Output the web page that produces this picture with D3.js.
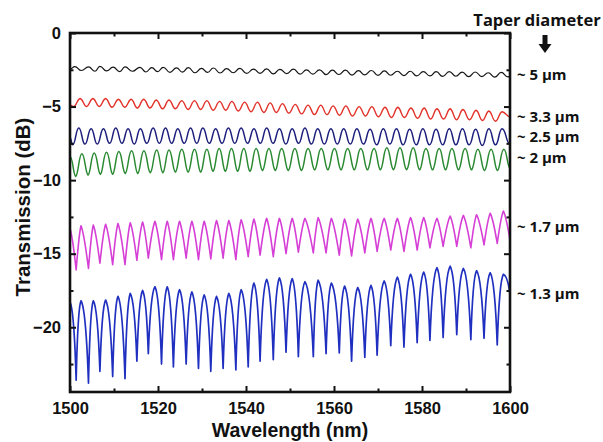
<!DOCTYPE html>
<html><head><meta charset="utf-8">
<script src="https://cdn.jsdelivr.net/npm/d3@7"></script>
<style>
body{margin:0;background:#fff}
svg{display:block}
text{font-family:"Liberation Sans",Arial,sans-serif;font-weight:bold;fill:#111}
.lab{font-family:"Open Sans","Liberation Sans",sans-serif;font-weight:700}
</style></head><body>
<svg id="c" width="603" height="442"></svg>
<script>
// ---------- data ----------
const xMajorTicks = [1500, 1520, 1540, 1560, 1580, 1600];
const xMinorTicks = [1510, 1530, 1550, 1570, 1590];
const yMajorTicks = [0, -5, -10, -15, -20];
const yMinorTicks = [-2.5, -7.5, -12.5, -17.5, -22.5];

const seriesNames  = ["5", "3.3", "2.5", "2", "1.7", "1.3"];
const seriesLabels = ["~ 5 \u00b5m", "~ 3.3 \u00b5m", "~ 2.5 \u00b5m", "~ 2 \u00b5m", "~ 1.7 \u00b5m", "~ 1.3 \u00b5m"];
const labelDb      = [-2.85, -5.7, -7.05, -8.5, -13.15, -17.75];

// ~5 um taper (black)
const blackPeakWl = [1501.1,1504.2,1506.8,1509.8,1512.5,1515.9,1518.6,1521.2,1524.2,1526.9,1529.9,1532.6,1535.6,1538.6,1541.7,1544.7,1547.7,1550.8,1553.75,1556.7,1559.65,1562.6,1565.55,1568.5,1571.45,1574.4,1577.35,1580.3,1583.25,1586.2,1589.15,1592.1,1595.05,1598.0];
const blackPeakDb = [-2.28,-2.3,-2.27,-2.32,-2.3,-2.33,-2.35,-2.33,-2.37,-2.36,-2.4,-2.38,-2.42,-2.4,-2.45,-2.44,-2.47,-2.46,-2.5,-2.5,-2.53,-2.52,-2.56,-2.55,-2.58,-2.6,-2.6,-2.62,-2.63,-2.62,-2.66,-2.65,-2.7,-2.68];
const blackTroughWl = [1502.6,1505.7,1508.3,1511.3,1514.2,1517.25,1519.9,1522.7,1525.55,1528.4,1531.25,1534.1,1537.1,1540.15,1543.2,1546.2,1549.25,1552.3,1555.2,1558.2,1561.1,1564.1,1567.0,1570.0,1572.9,1575.9,1578.8,1581.8,1584.7,1587.7,1590.6,1593.6,1596.5,1599.5];
const blackTroughDb = [-2.55,-2.6,-2.58,-2.62,-2.6,-2.65,-2.63,-2.67,-2.66,-2.7,-2.68,-2.72,-2.7,-2.75,-2.74,-2.78,-2.76,-2.8,-2.8,-2.83,-2.82,-2.86,-2.85,-2.88,-2.87,-2.9,-2.92,-2.92,-2.95,-2.94,-2.97,-2.96,-3.0,-2.98];
const blackEdgeDb = [-2.45, -2.95];

// ~3.3 um taper (red)
const redPeakWl = [1502.3,1505.2,1508.1,1511.0,1513.9,1516.75,1519.6,1522.5,1525.4,1528.3,1531.1,1534.0,1536.8,1539.7,1542.6,1545.5,1548.3,1551.2,1554.1,1557.0,1559.8,1562.7,1565.7,1568.6,1571.6,1574.5,1577.5,1580.5,1583.4,1586.4,1589.3,1592.3,1595.2,1598.2];
const redPeakDb = [-4.45,-4.45,-4.45,-4.5,-4.5,-4.5,-4.55,-4.55,-4.6,-4.6,-4.6,-4.65,-4.65,-4.7,-4.7,-4.75,-4.8,-4.85,-4.9,-4.9,-4.95,-4.95,-5.0,-5.0,-5.05,-5.05,-5.1,-5.1,-5.15,-5.15,-5.2,-5.25,-5.3,-5.35];
const redTroughWl = [1500.85,1503.75,1506.65,1509.55,1512.45,1515.3,1518.2,1521.05,1523.95,1526.85,1529.7,1532.55,1535.4,1538.25,1541.15,1544.05,1546.9,1549.75,1552.65,1555.55,1558.4,1561.25,1564.2,1567.15,1570.1,1573.05,1576.0,1579.0,1581.95,1584.9,1587.85,1590.8,1593.75,1596.7];
const redTroughDb = [-5.0,-5.0,-5.0,-5.05,-5.05,-5.1,-5.1,-5.15,-5.15,-5.2,-5.2,-5.25,-5.25,-5.3,-5.35,-5.4,-5.4,-5.45,-5.5,-5.55,-5.55,-5.6,-5.65,-5.65,-5.7,-5.75,-5.75,-5.8,-5.85,-5.85,-5.9,-5.9,-5.95,-6.0];
const redEdgeDb = [-4.9, -5.7];

// ~2.5 um taper (navy)
const navyPeakWl = [1502.0,1504.8,1507.6,1510.4,1513.2,1516.0,1518.9,1521.7,1524.5,1527.4,1530.2,1533.1,1536.0,1538.9,1541.8,1544.7,1547.6,1550.5,1553.4,1556.3,1559.3,1562.2,1565.2,1568.2,1571.2,1574.2,1577.2,1580.2,1583.2,1586.2,1589.2,1592.2,1595.2,1598.2];
const navyPeakDb = [-6.45,-6.5,-6.5,-6.45,-6.5,-6.5,-6.45,-6.45,-6.5,-6.45,-6.45,-6.5,-6.45,-6.45,-6.5,-6.45,-6.5,-6.5,-6.45,-6.5,-6.5,-6.5,-6.5,-6.55,-6.5,-6.5,-6.55,-6.5,-6.55,-6.5,-6.5,-6.55,-6.5,-6.5];
const navyTroughWl = [1500.6,1503.4,1506.2,1509.0,1511.8,1514.6,1517.45,1520.3,1523.1,1525.95,1528.8,1531.65,1534.55,1537.45,1540.35,1543.25,1546.15,1549.05,1551.95,1554.85,1557.8,1560.75,1563.7,1566.7,1569.7,1572.7,1575.7,1578.7,1581.7,1584.7,1587.7,1590.7,1593.7,1596.7];
const navyTroughDb = [-7.6,-7.55,-7.55,-7.5,-7.5,-7.55,-7.5,-7.5,-7.5,-7.5,-7.5,-7.5,-7.5,-7.5,-7.5,-7.5,-7.5,-7.55,-7.5,-7.55,-7.55,-7.55,-7.55,-7.55,-7.6,-7.55,-7.6,-7.6,-7.6,-7.6,-7.6,-7.6,-7.65,-7.6];
const navyEdgeDb = [-7.1, -7.55];

// ~2 um taper (green)
const greenPeakWl = [1502.7,1505.5,1508.3,1511.1,1514.0,1516.8,1519.7,1522.5,1525.4,1528.3,1531.1,1533.9,1536.7,1539.5,1542.3,1545.2,1548.1,1551.1,1554.1,1557.1,1560.1,1563.1,1566.1,1569.1,1572.0,1575.0,1578.0,1580.9,1583.9,1586.8,1589.8,1592.7,1595.7,1598.6];
const greenPeakDb = [-8.2,-8.15,-8.1,-8.05,-8.0,-8.0,-7.95,-7.95,-7.9,-7.9,-7.9,-7.85,-7.85,-7.85,-7.85,-7.85,-7.85,-7.85,-7.85,-7.85,-7.85,-7.85,-7.85,-7.85,-7.8,-7.8,-7.8,-7.85,-7.85,-7.85,-7.85,-7.9,-7.9,-7.9];
const greenTroughWl = [1501.3,1504.1,1506.9,1509.7,1512.55,1515.4,1518.25,1521.1,1523.95,1526.85,1529.7,1532.5,1535.3,1538.1,1540.9,1543.75,1546.65,1549.6,1552.6,1555.6,1558.6,1561.6,1564.6,1567.6,1570.55,1573.5,1576.5,1579.45,1582.4,1585.35,1588.3,1591.25,1594.2,1597.15];
const greenTroughDb = [-9.75,-9.65,-9.6,-9.6,-9.55,-9.55,-9.5,-9.5,-9.45,-9.45,-9.45,-9.4,-9.4,-9.4,-9.4,-9.35,-9.35,-9.35,-9.35,-9.3,-9.3,-9.3,-9.3,-9.3,-9.3,-9.3,-9.3,-9.3,-9.3,-9.3,-9.3,-9.3,-9.35,-9.35];
const greenEdgeDb = [-8.4, -9.2];

// ~1.7 um and ~1.3 um tapers share the fringe positions
const dipPeakWl = [1502.5,1505.3,1508.1,1510.9,1513.7,1516.5,1519.3,1522.1,1524.9,1527.7,1530.5,1533.3,1536.1,1538.9,1541.8,1544.7,1547.6,1550.5,1553.4,1556.4,1559.4,1562.4,1565.4,1568.4,1571.4,1574.4,1577.4,1580.4,1583.4,1586.4,1589.4,1592.4,1595.5,1598.5];
const dipTroughWl = [1501.4,1504.2,1506.8,1509.7,1512.5,1515.2,1517.8,1520.8,1523.5,1526.4,1529.2,1532.0,1534.8,1537.7,1540.5,1543.2,1546.2,1549.1,1551.9,1555.3,1558.2,1561.2,1564.0,1567.0,1569.8,1572.9,1575.9,1578.9,1581.8,1584.8,1587.9,1591.1,1594.1,1597.1];

const magentaPeakDb = [-13.1,-13.05,-13.0,-12.95,-12.9,-12.85,-12.8,-12.8,-12.8,-12.8,-12.8,-12.75,-12.75,-12.7,-12.65,-12.6,-12.6,-12.6,-12.6,-12.55,-12.6,-12.65,-12.65,-12.6,-12.6,-12.6,-12.55,-12.55,-12.6,-12.45,-12.4,-12.35,-12.25,-12.1];
const magentaTroughDb = [-16.1,-16.0,-15.65,-15.75,-15.75,-15.45,-15.3,-15.4,-15.4,-15.3,-15.4,-15.35,-15.3,-15.4,-15.2,-15.1,-15.2,-15.0,-14.9,-14.95,-14.95,-15.1,-15.15,-14.95,-14.85,-14.75,-14.85,-14.75,-14.6,-14.5,-14.5,-14.6,-14.4,-14.3];
const magentaEdgeDb = [-13.3, -14.05];

const bluePeakDb = [-18.2,-18.2,-18.15,-17.9,-17.7,-17.5,-17.25,-17.25,-17.45,-17.6,-17.8,-17.9,-17.7,-17.45,-17.0,-16.75,-16.65,-16.7,-16.9,-16.8,-17.0,-17.2,-17.3,-17.15,-16.85,-16.6,-16.4,-16.25,-15.95,-15.85,-16.0,-16.15,-16.3,-16.4];
const blueTroughDb = [-23.6,-23.8,-23.0,-23.35,-23.5,-22.3,-21.8,-22.5,-22.7,-22.5,-22.8,-23.0,-22.8,-22.9,-22.7,-22.3,-22.2,-21.7,-22.0,-22.0,-21.8,-21.75,-22.3,-22.05,-21.9,-21.25,-21.35,-21.05,-20.9,-20.7,-20.5,-20.85,-20.75,-21.2];
const blueEdgeDb = [-18.3, -17.8];

// ---------- chart ----------
const L = 70, R = 510, T = 33, B = 392;
const x = d3.scaleLinear().domain([1500, 1600]).range([L, R]);
const y = d3.scaleLinear().domain([-24.4, 0]).range([B, T]);
const svg = d3.select("#c");

const series = [
  {pw: blackPeakWl, pd: blackPeakDb, tw: blackTroughWl, td: blackTroughDb, e: blackEdgeDb, color: "#151515", w: 1.2, st: 0, sp: 0},
  {pw: redPeakWl, pd: redPeakDb, tw: redTroughWl, td: redTroughDb, e: redEdgeDb, color: "#e2332b", w: 1.4, st: 0.1, sp: 0.1},
  {pw: navyPeakWl, pd: navyPeakDb, tw: navyTroughWl, td: navyTroughDb, e: navyEdgeDb, color: "#1d1f7c", w: 1.5, st: 0, sp: 0},
  {pw: greenPeakWl, pd: greenPeakDb, tw: greenTroughWl, td: greenTroughDb, e: greenEdgeDb, color: "#2a8a32", w: 1.5, st: 0.1, sp: 0},
  {pw: dipPeakWl, pd: magentaPeakDb, tw: dipTroughWl, td: magentaTroughDb, e: magentaEdgeDb, color: "#d63fd6", w: 1.6, st: 0.55, sp: 0.25},
  {pw: dipPeakWl, pd: bluePeakDb, tw: dipTroughWl, td: blueTroughDb, e: blueEdgeDb, color: "#1f2fbf", w: 1.7, st: 0.75, sp: 0.1}
];

// custom fringe curve: rounded or sharp extrema
function fringeCurve(st, sp) {
  return function(context) {
    let pts = [];
    return {
      areaStart() {}, areaEnd() {},
      lineStart() { pts = []; },
      point(px, py) { pts.push([+px, +py]); },
      lineEnd() {
        if (!pts.length) return;
        context.moveTo(pts[0][0], pts[0][1]);
        for (let i = 1; i < pts.length; i++) {
          const [x0, y0] = pts[i - 1], [x1, y1] = pts[i];
          const dx = x1 - x0, dy = y1 - y0;
          let s0, s1;
          if (dy > 0) { s0 = sp; s1 = st; } else { s0 = st; s1 = sp; }
          const c1x = x0 + dx * (0.5 - 0.42 * s0), c1y = y0 + dy * 0.65 * s0;
          const c2x = x1 - dx * (0.5 - 0.42 * s1), c2y = y1 - dy * 0.65 * s1;
          context.bezierCurveTo(c1x, c1y, c2x, c2y, x1, y1);
        }
      }
    };
  };
}

svg.append("defs").append("clipPath").attr("id", "clip")
  .append("rect").attr("x", L).attr("y", T).attr("width", R - L).attr("height", B - T);

const g = svg.append("g").attr("clip-path", "url(#clip)");
series.forEach(s => {
  const pts = [[1500, s.e[0]]];
  s.pw.forEach((w, i) => pts.push([w, s.pd[i]]));
  s.tw.forEach((w, i) => pts.push([w, s.td[i]]));
  pts.push([1600, s.e[1]]);
  pts.sort((a, b) => a[0] - b[0]);
  const line = d3.line().x(d => x(d[0])).y(d => y(d[1])).curve(fringeCurve(s.st, s.sp));
  g.append("path").attr("d", line(pts)).attr("fill", "none")
    .attr("stroke", s.color).attr("stroke-width", s.w).attr("stroke-linejoin", "round");
});

// axes (ticks inward)
function styleAxis(sel) {
  sel.select(".domain").remove();
  sel.attr("font-family", null).attr("font-size", null);
  sel.selectAll(".tick line").attr("stroke", "#111").attr("stroke-width", 2);
  sel.selectAll(".tick text").style("font-size", "16.5px").style("font-weight", "700")
    .style("font-family", "'Liberation Sans', Arial, sans-serif").attr("fill", "#111");
}
const fmt = d => d3.format("d")(d);
svg.append("g").attr("transform", `translate(0,${B})`)
  .call(d3.axisBottom(x).tickValues(xMajorTicks).tickSize(-6).tickPadding(10).tickFormat(fmt)).call(styleAxis);
svg.append("g").attr("transform", `translate(0,${B})`)
  .call(d3.axisBottom(x).tickValues(xMinorTicks).tickSize(-3.5).tickFormat("")).call(styleAxis);
svg.append("g").attr("transform", `translate(0,${T})`)
  .call(d3.axisTop(x).tickValues(xMajorTicks).tickSize(-6).tickFormat("")).call(styleAxis);
svg.append("g").attr("transform", `translate(0,${T})`)
  .call(d3.axisTop(x).tickValues(xMinorTicks).tickSize(-3.5).tickFormat("")).call(styleAxis);
svg.append("g").attr("transform", `translate(${L},0)`)
  .call(d3.axisLeft(y).tickValues(yMajorTicks).tickSize(-6).tickPadding(9).tickFormat(fmt)).call(styleAxis);
svg.append("g").attr("transform", `translate(${L},0)`)
  .call(d3.axisLeft(y).tickValues(yMinorTicks).tickSize(-3.5).tickFormat("")).call(styleAxis);
svg.append("g").attr("transform", `translate(${R},0)`)
  .call(d3.axisRight(y).tickValues(yMajorTicks).tickSize(-6).tickFormat("")).call(styleAxis);
svg.append("g").attr("transform", `translate(${R},0)`)
  .call(d3.axisRight(y).tickValues(yMinorTicks).tickSize(-3.5).tickFormat("")).call(styleAxis);

// frame
svg.append("rect").attr("x", L).attr("y", T).attr("width", R - L).attr("height", B - T)
  .attr("fill", "none").attr("stroke", "#111").attr("stroke-width", 2.6);

// axis titles
svg.append("text").attr("x", 290).attr("y", 437).attr("text-anchor", "middle")
  .style("font-size", "19.5px").text("Wavelength (nm)");
svg.append("text").attr("transform", `translate(30,207) rotate(-90)`)
  .attr("text-anchor", "middle").style("font-size", "20.5px").text("Transmission (dB)");

// legend-like labels
svg.append("text").attr("class", "lab").attr("x", 537).attr("y", 26).attr("text-anchor", "middle")
  .style("font-size", "16.5px").text("Taper diameter");
const ax = 545;
svg.append("path").attr("d", `M${ax-2.5},35 L${ax+2.5},35 L${ax+2.5},44 L${ax+6.5},44 L${ax},53 L${ax-6.5},44 L${ax-2.5},44 Z`)
  .attr("fill", "#111");
svg.selectAll("text.sl").data(seriesLabels).enter().append("text")
  .attr("class", "lab sl").attr("x", 517).attr("y", (d, i) => y(labelDb[i])).attr("dy", "0.35em")
  .style("font-size", "15px").text(d => d);
</script>
</body></html>
